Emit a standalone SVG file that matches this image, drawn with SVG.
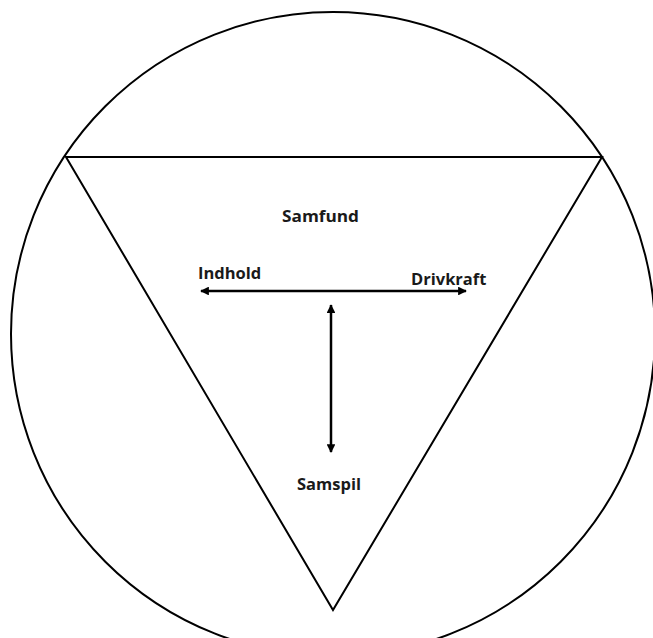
<svg xmlns="http://www.w3.org/2000/svg" width="653" height="638" viewBox="0 0 653 638">
<style>
.shape{fill:none;stroke:#000;stroke-width:2}
.conn{stroke:#000;stroke-width:2.5;fill:none}
text{font-family:"Open Sans","Liberation Sans",sans-serif;font-weight:bold;font-size:16.5px;fill:#1a1a1a}
</style>
<defs>
<marker id="ah" viewBox="0 0 10 10" refX="9" refY="5" markerWidth="3.5" markerHeight="3.5" orient="auto-start-reverse">
<path d="M0,0 L10,5 L0,10 Z" fill="#000"/>
</marker>
</defs>
<rect width="653" height="638" fill="#fff"/>
<g id="circle"><circle class="shape" cx="333" cy="334" r="322"/></g>
<g id="triangle"><polygon class="shape" points="66,157 602,157 333,610"/></g>
<g id="samfund"><text x="282" y="222" textLength="77" lengthAdjust="spacingAndGlyphs">Samfund</text></g>
<g id="indhold"><text x="198" y="279">Indhold</text></g>
<g id="drivkraft"><text x="411" y="285">Drivkraft</text></g>
<g id="samspil"><text x="297" y="490">Samspil</text></g>
<g id="connectors">
<line class="conn" x1="201" y1="291" x2="466" y2="291" marker-start="url(#ah)" marker-end="url(#ah)"/>
<line class="conn" x1="331" y1="305" x2="331" y2="452" marker-start="url(#ah)" marker-end="url(#ah)"/>
</g>
</svg>
